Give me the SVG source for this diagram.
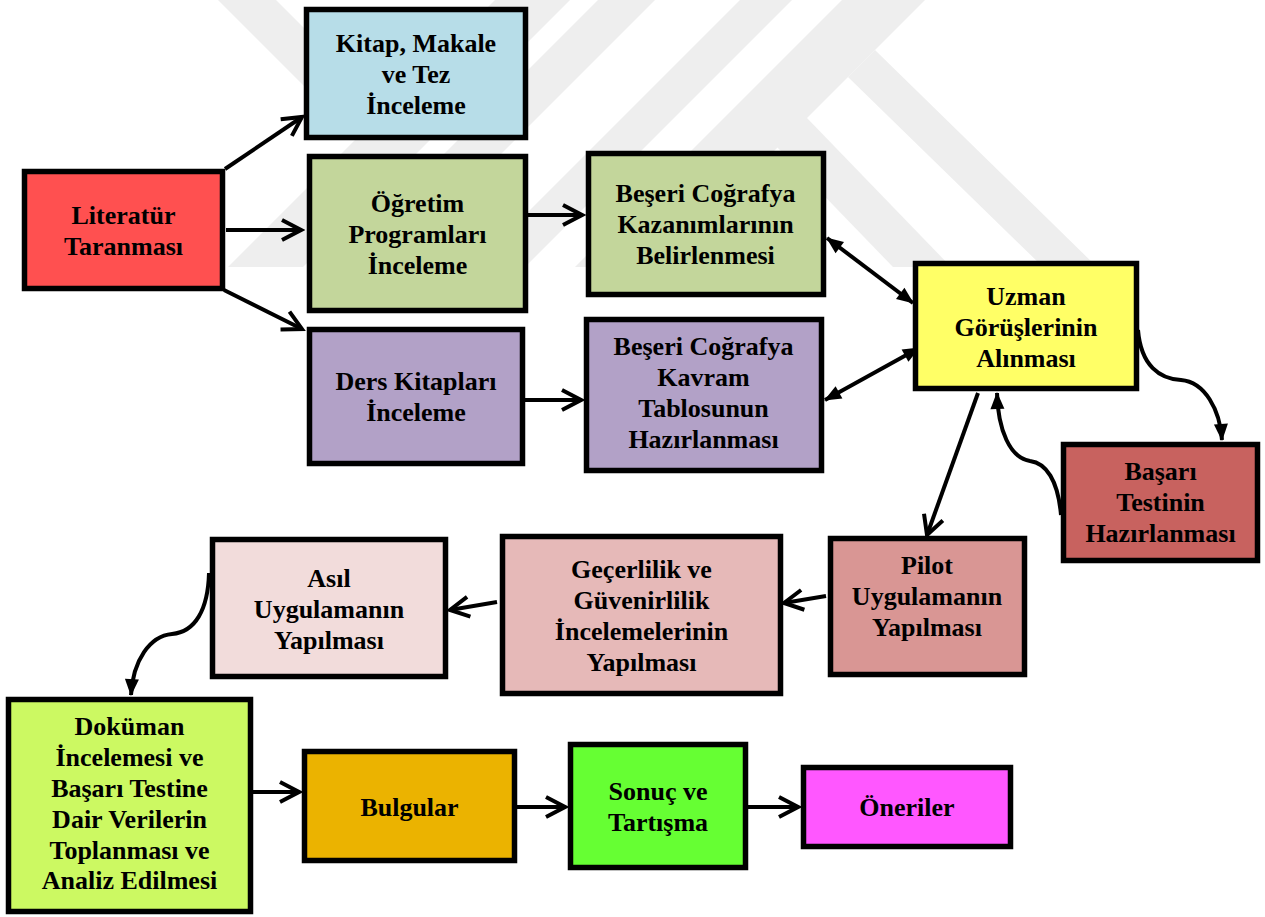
<svg xmlns="http://www.w3.org/2000/svg" width="1265" height="917" viewBox="0 0 1265 917">
<style>
.box{stroke:#000;stroke-width:5.5}
.t{font-family:"Liberation Serif","Times New Roman",serif;font-weight:bold;font-size:26px;fill:#000;text-anchor:middle}
.c{fill:none;stroke:#000;stroke-width:4}
.wm{fill:#eeeeee}
</style>
<defs>
<marker id="open" markerUnits="userSpaceOnUse" viewBox="-24 -14 28 28" refX="0" refY="0" markerWidth="28" markerHeight="28" orient="auto">
<path d="M-19,-10 L0,0 L-19,10" fill="none" stroke="#000" stroke-width="4"/>
</marker>
<marker id="fill" markerUnits="userSpaceOnUse" viewBox="-20 -10 22 20" refX="0" refY="0" markerWidth="22" markerHeight="20" orient="auto-start-reverse">
<path d="M1,0 L-16,-7 L-16,7 Z" fill="#000"/>
</marker>
</defs>
<rect width="1265" height="917" fill="#fff"/>
<g id="watermark">
<polygon class="wm" points="218,0 276,0 416,140 358,140"/>
<polygon class="wm" points="495,0 570,0 303,267 228,267"/>
<polygon class="wm" points="598,0 655,0 388,267 331,267"/>
<polygon class="wm" points="740,0 792,0 525,267 473,267"/>
<polygon class="wm" points="842,0 925,0 658,267 575,267"/>
<polygon class="wm" points="875,50 848,77 1043,267 1097,267"/>
<polygon class="wm" points="806,117 777,147 893,267 951,267"/>
</g>
<g id="connectors">
<line class="c" x1="225" y1="169" x2="302" y2="117" marker-end="url(#open)"/>
<line class="c" x1="226" y1="230" x2="301" y2="230" marker-end="url(#open)"/>
<line class="c" x1="224" y1="290" x2="302" y2="329" marker-end="url(#open)"/>
<line class="c" x1="528" y1="215" x2="582" y2="215" marker-end="url(#open)"/>
<line class="c" x1="525" y1="400" x2="581" y2="400" marker-end="url(#open)"/>
<line class="c" x1="827" y1="238" x2="913" y2="303" marker-start="url(#fill)" marker-end="url(#fill)"/>
<line class="c" x1="825" y1="400" x2="919" y2="348" marker-start="url(#fill)" marker-end="url(#fill)"/>
<path class="c" d="M1138,330 C1141,366 1160,379 1181,380 C1205,382 1220,410 1222,440" marker-end="url(#fill)"/>
<path class="c" d="M1061,515 C1058,480 1046,463 1030,461 C1010,458 998,430 997,393" marker-end="url(#fill)"/>
<line class="c" x1="978" y1="393" x2="927" y2="535" marker-end="url(#open)"/>
<line class="c" x1="826" y1="596" x2="784" y2="603" marker-end="url(#open)"/>
<line class="c" x1="497" y1="602" x2="450" y2="610" marker-end="url(#open)"/>
<path class="c" d="M209,573 C208,610 195,632 172,634 C150,636 133,660 131,695" marker-end="url(#fill)"/>
<line class="c" x1="253" y1="792" x2="299" y2="792" marker-end="url(#open)"/>
<line class="c" x1="517" y1="807" x2="565" y2="807" marker-end="url(#open)"/>
<line class="c" x1="748" y1="807" x2="798" y2="807" marker-end="url(#open)"/>
</g>
<g id="n-kitap">
<rect class="box" x="306.5" y="9.5" width="219" height="128" fill="#b7dde8"/>
<text class="t" x="416" y="52">Kitap, Makale</text>
<text class="t" x="416" y="83">ve Tez</text>
<text class="t" x="416" y="114">İnceleme</text>
</g>
<g id="n-literatur">
<rect class="box" x="24.5" y="171.5" width="198" height="117" fill="#ff5050"/>
<text class="t" x="123.5" y="224">Literatür</text>
<text class="t" x="123.5" y="255">Taranması</text>
</g>
<g id="n-ogretim">
<rect class="box" x="309.5" y="156.5" width="216" height="154" fill="#c3d69b"/>
<text class="t" x="417.5" y="212">Öğretim</text>
<text class="t" x="417.5" y="243">Programları</text>
<text class="t" x="417.5" y="274">İnceleme</text>
</g>
<g id="n-ders">
<rect class="box" x="309.5" y="329.5" width="213" height="134" fill="#b2a1c7"/>
<text class="t" x="416" y="390">Ders Kitapları</text>
<text class="t" x="416" y="421">İnceleme</text>
</g>
<g id="n-kazanim">
<rect class="box" x="588.5" y="153.5" width="235" height="141" fill="#c3d69b"/>
<text class="t" x="705.5" y="202">Beşeri Coğrafya</text>
<text class="t" x="705.5" y="233">Kazanımlarının</text>
<text class="t" x="705.5" y="264">Belirlenmesi</text>
</g>
<g id="n-kavram">
<rect class="box" x="586.5" y="319.5" width="235" height="151" fill="#b2a1c7"/>
<text class="t" x="703.5" y="355">Beşeri Coğrafya</text>
<text class="t" x="703.5" y="386">Kavram</text>
<text class="t" x="703.5" y="417">Tablosunun</text>
<text class="t" x="703.5" y="448">Hazırlanması</text>
</g>
<g id="n-uzman">
<rect class="box" x="915.5" y="263.5" width="221" height="125" fill="#ffff66"/>
<text class="t" x="1026" y="305">Uzman</text>
<text class="t" x="1026" y="336">Görüşlerinin</text>
<text class="t" x="1026" y="367">Alınması</text>
</g>
<g id="n-basari">
<rect class="box" x="1063.5" y="444.5" width="194" height="116" fill="#c8625f"/>
<text class="t" x="1160.5" y="480">Başarı</text>
<text class="t" x="1160.5" y="511">Testinin</text>
<text class="t" x="1160.5" y="542">Hazırlanması</text>
</g>
<g id="n-pilot">
<rect class="box" x="830.5" y="538.5" width="194" height="136" fill="#d99694"/>
<text class="t" x="927" y="574">Pilot</text>
<text class="t" x="927" y="605">Uygulamanın</text>
<text class="t" x="927" y="636">Yapılması</text>
</g>
<g id="n-gecerlilik">
<rect class="box" x="502.5" y="536.5" width="278" height="157" fill="#e6b9b8"/>
<text class="t" x="641.5" y="578">Geçerlilik ve</text>
<text class="t" x="641.5" y="609">Güvenirlilik</text>
<text class="t" x="641.5" y="640">İncelemelerinin</text>
<text class="t" x="641.5" y="671">Yapılması</text>
</g>
<g id="n-asil">
<rect class="box" x="212.5" y="539.5" width="233" height="137" fill="#f2dcdb"/>
<text class="t" x="329" y="587">Asıl</text>
<text class="t" x="329" y="618">Uygulamanın</text>
<text class="t" x="329" y="649">Yapılması</text>
</g>
<g id="n-dokuman">
<rect class="box" x="8.5" y="699.5" width="242" height="212" fill="#ccf962"/>
<text class="t" x="129.5" y="735">Doküman</text>
<text class="t" x="129.5" y="766">İncelemesi ve</text>
<text class="t" x="129.5" y="797">Başarı Testine</text>
<text class="t" x="129.5" y="828">Dair Verilerin</text>
<text class="t" x="129.5" y="859">Toplanması ve</text>
<text class="t" x="129.5" y="889">Analiz Edilmesi</text>
</g>
<g id="n-bulgular">
<rect class="box" x="304.5" y="751.5" width="210" height="109" fill="#ebb300"/>
<text class="t" x="409.5" y="816">Bulgular</text>
</g>
<g id="n-sonuc">
<rect class="box" x="570.5" y="744.5" width="175" height="123" fill="#66ff33"/>
<text class="t" x="658" y="800">Sonuç ve</text>
<text class="t" x="658" y="831">Tartışma</text>
</g>
<g id="n-oneriler">
<rect class="box" x="803.5" y="767.5" width="207" height="79" fill="#ff57ff"/>
<text class="t" x="907" y="816">Öneriler</text>
</g>
</svg>
